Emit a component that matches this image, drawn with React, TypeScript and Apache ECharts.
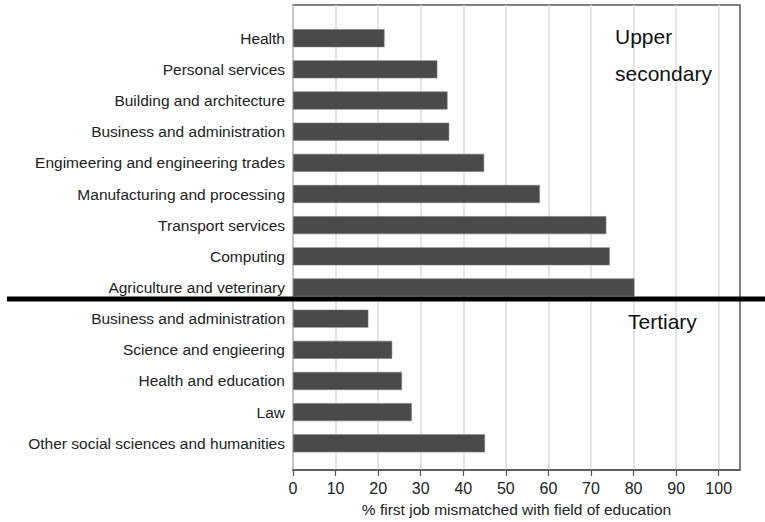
import React, { useEffect, useRef } from "react";
import * as echarts from "echarts";

const categories = [
  "Health",
  "Personal services",
  "Building and architecture",
  "Business and administration",
  "Engimeering and engineering trades",
  "Manufacturing and processing",
  "Transport services",
  "Computing",
  "Agriculture and veterinary",
  "Business and administration ",
  "Science and engieering",
  "Health and education",
  "Law",
  "Other social sciences and humanities",
];

const values = [21.5, 33.9, 36.3, 36.7, 44.9, 58.0, 73.6, 74.4, 80.2, 17.7, 23.3, 25.6, 27.9, 45.1];

const xTicks = [0, 10, 20, 30, 40, 50, 60, 70, 80, 90, 100];

const FONT = "'Liberation Sans', Arial, Helvetica, sans-serif";

export default function App() {
  const ref = useRef<HTMLDivElement>(null);
  useEffect(() => {
    if (!ref.current) return;
    const chart = echarts.init(ref.current, undefined, { renderer: "svg" });
    chart.setOption({
      animation: false,
      backgroundColor: "#fff",
      textStyle: { fontFamily: FONT },
      grid: [
        {
          left: 293,
          right: 25,
          top: 5,
          bottom: 47,
          show: true,
          borderColor: "#555",
          borderWidth: 1.5,
          backgroundColor: "transparent",
        },
        { left: 293, right: 25, top: 22.6, bottom: 63.1 },
      ],
      xAxis: [
        {
          type: "value",
          gridIndex: 0,
          min: 0,
          max: 105,
          interval: 10,
          axisLine: { show: true, lineStyle: { color: "#555", width: 1.5 } },
          axisTick: { show: true, length: 6, lineStyle: { color: "#555", width: 1.2 }, customValues: xTicks },
          axisLabel: {
            fontSize: 16,
            color: "#222",
            margin: 10,
            fontFamily: FONT,
            customValues: xTicks,
          },
          splitLine: { show: true, lineStyle: { color: "#dcdcdc", width: 1.5 } },
          name: "% first job mismatched with field of education",
          nameLocation: "middle",
          nameGap: 28,
          nameTextStyle: { fontSize: 15.5, color: "#222", fontFamily: FONT },
        },
        {
          type: "value",
          gridIndex: 1,
          min: 0,
          max: 105,
          show: false,
        },
      ],
      yAxis: [
        { type: "value", gridIndex: 0, show: false },
        {
          type: "category",
          gridIndex: 1,
          inverse: true,
          data: categories,
          axisLine: { show: false },
          axisTick: { show: false },
          axisLabel: {
            fontSize: 15.5,
            color: "#222",
            margin: 8,
            fontFamily: FONT,
            formatter: (v: string) => v.trim(),
          },
        },
      ],
      series: [
        {
          type: "bar",
          xAxisIndex: 1,
          yAxisIndex: 1,
          data: values,
          barWidth: 18,
          itemStyle: { color: "#4a4a4a", borderColor: "#7a7a7a", borderWidth: 0.6 },
        },
      ],
      graphic: [
        {
          type: "line",
          shape: { x1: 7, y1: 299, x2: 765, y2: 299 },
          style: { stroke: "#000", lineWidth: 5 },
          z: 100,
        },
        {
          type: "text",
          x: 615,
          y: 36,
          style: { text: "Upper", fontSize: 21, fill: "#111", fontFamily: FONT, verticalAlign: "middle" },
          z: 100,
        },
        {
          type: "text",
          x: 615,
          y: 73,
          style: { text: "secondary", fontSize: 21, fill: "#111", fontFamily: FONT, verticalAlign: "middle" },
          z: 100,
        },
        {
          type: "text",
          x: 628,
          y: 321,
          style: { text: "Tertiary", fontSize: 21, fill: "#111", fontFamily: FONT, verticalAlign: "middle" },
          z: 100,
        },
      ],
    });
    return () => chart.dispose();
  }, []);
  return (
    <div
      ref={ref}
      style={{ position: "fixed", left: 0, top: 0, width: 765, height: 522 }}
    />
  );
}
